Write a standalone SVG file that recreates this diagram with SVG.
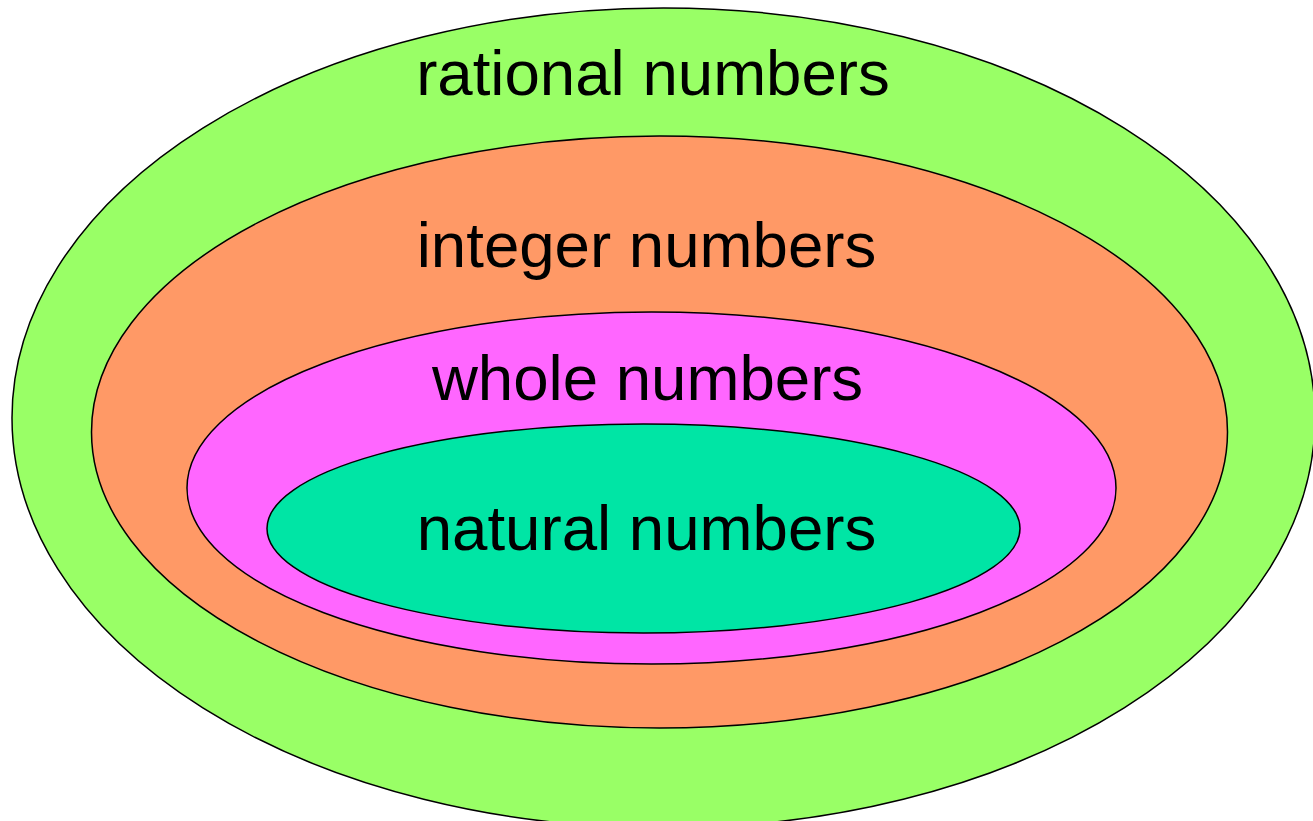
<svg xmlns="http://www.w3.org/2000/svg" width="1313" height="821" viewBox="0 0 1313 821">
<style>
.set{stroke:#000;stroke-width:1.5}
.lbl{font-family:"Liberation Sans",Arial,sans-serif;font-size:63.6px;fill:#000;text-anchor:middle}
</style>
<rect width="1313" height="821" fill="#fff"/>
<g id="rational">
<ellipse class="set" cx="663.5" cy="418" rx="651.5" ry="410" fill="#99FF66"/>
<text class="lbl" x="653" y="95">rational numbers</text>
</g>
<g id="integer">
<ellipse class="set" cx="659.5" cy="432" rx="568" ry="296" fill="#FF9966"/>
<text class="lbl" x="646.5" y="267">integer numbers</text>
</g>
<g id="whole">
<ellipse class="set" cx="651.5" cy="488" rx="464.5" ry="176" fill="#FF66FF"/>
<text class="lbl" x="647.5" y="400">whole numbers</text>
</g>
<g id="natural">
<ellipse class="set" cx="643.5" cy="528.5" rx="376.5" ry="104.5" fill="#00E5A5"/>
<text class="lbl" x="646.5" y="550">natural numbers</text>
</g>
<g id="connectors"/>
</svg>
